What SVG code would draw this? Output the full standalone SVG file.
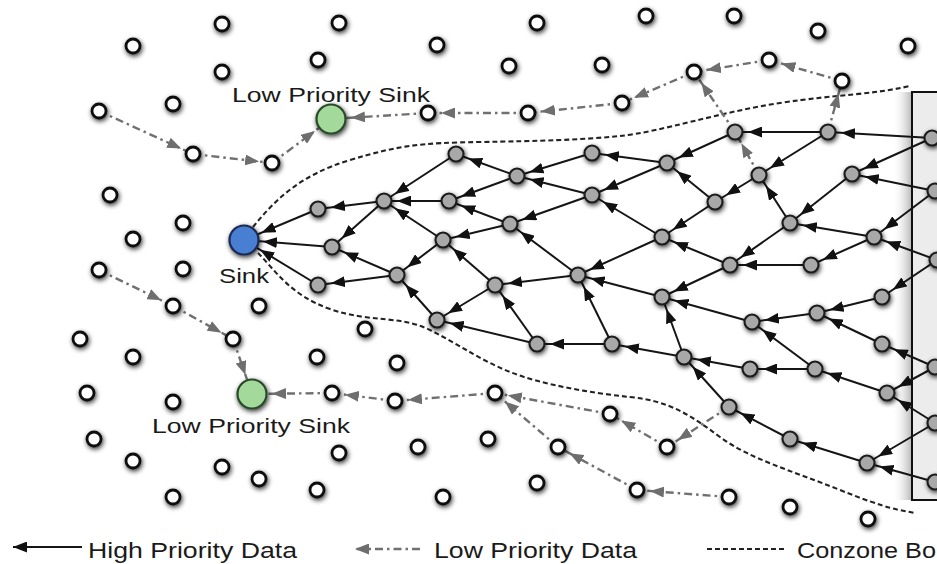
<svg xmlns="http://www.w3.org/2000/svg" width="937" height="564" viewBox="0 0 937 564">
<defs>
<style>
.w{fill:#fff;stroke:#111;stroke-width:2.8}
.g{fill:#a8a8a8;stroke:#1a1a1a;stroke-width:2.1}
.hp{stroke:#151515;stroke-width:2;fill:none}
.lp{stroke:#707070;stroke-width:2.4;stroke-dasharray:8 4 2.5 4;fill:none}
.cz{stroke:#222;stroke-width:2.1;stroke-dasharray:5 3;fill:none}
.t{font-family:"Liberation Sans",Arial,sans-serif;fill:#1a1a1a}
.nd{filter:url(#sh)}
</style>
<filter id="sh" x="-80%" y="-80%" width="260%" height="260%">
<feGaussianBlur in="SourceAlpha" stdDeviation="2.4"/>
<feOffset dx="1" dy="1.5"/>
<feComponentTransfer><feFuncA type="linear" slope="0.8"/></feComponentTransfer>
<feMerge><feMergeNode/><feMergeNode in="SourceGraphic"/></feMerge>
</filter>
<linearGradient id="bs" x1="0" x2="1" y1="0" y2="0">
<stop offset="0" stop-color="#fff" stop-opacity="0"/>
<stop offset="1" stop-color="#b5b5b5"/>
</linearGradient>
<marker id="ah" markerUnits="userSpaceOnUse" markerWidth="15" markerHeight="11" refX="27" refY="5.5" orient="auto"><path d="M0,0 L14,5.5 L0,11 z" fill="#111"/></marker>
<marker id="ahs" markerUnits="userSpaceOnUse" markerWidth="15" markerHeight="11" refX="33" refY="5.5" orient="auto"><path d="M0,0 L14,5.5 L0,11 z" fill="#111"/></marker>
<marker id="al" markerUnits="userSpaceOnUse" markerWidth="15" markerHeight="11" refX="27" refY="5.5" orient="auto"><path d="M0,0 L14,5.5 L0,11 z" fill="#6e6e6e"/></marker>
<marker id="als" markerUnits="userSpaceOnUse" markerWidth="15" markerHeight="11" refX="34" refY="5.5" orient="auto"><path d="M0,0 L14,5.5 L0,11 z" fill="#6e6e6e"/></marker>
<marker id="ahL" markerUnits="userSpaceOnUse" markerWidth="15" markerHeight="11" refX="14" refY="5.5" orient="auto"><path d="M0,0 L14,5.5 L0,11 z" fill="#111"/></marker>
<marker id="alL" markerUnits="userSpaceOnUse" markerWidth="15" markerHeight="11" refX="14" refY="5.5" orient="auto"><path d="M0,0 L14,5.5 L0,11 z" fill="#6e6e6e"/></marker>
</defs>
<rect width="937" height="564" fill="#fff"/>

<g id="boundary">
<path class="cz" d="M253,227 C275,200 300,175 350,160 S420,143 480,142 S580,140 620,136 S720,112 780,103 S870,95 910,86"/>
<path class="cz" d="M258,253 C275,270 290,295 330,309 S400,315 430,330 S480,360 510,372 S590,393 630,397 S690,415 720,437 S790,470 840,490 S900,510 915,513"/>
</g>

<g id="box">
<rect x="892" y="92" width="20" height="408" fill="url(#bs)"/>
<rect x="912" y="92" width="40" height="408" fill="#ececec" stroke="#111" stroke-width="2"/>
</g>

<g id="connectors">
<line class="hp" x1="517" y1="176" x2="456" y2="154" marker-end="url(#ah)"/>
<line class="hp" x1="456" y1="154" x2="384" y2="201" marker-end="url(#ah)"/>
<line class="hp" x1="592" y1="153" x2="517" y2="176" marker-end="url(#ah)"/>
<line class="hp" x1="592" y1="195" x2="517" y2="176" marker-end="url(#ah)"/>
<line class="hp" x1="517" y1="176" x2="449" y2="201" marker-end="url(#ah)"/>
<line class="hp" x1="667" y1="163" x2="592" y2="153" marker-end="url(#ah)"/>
<line class="hp" x1="667" y1="163" x2="592" y2="195" marker-end="url(#ah)"/>
<line class="hp" x1="735" y1="132" x2="667" y2="163" marker-end="url(#ah)"/>
<line class="hp" x1="715" y1="202" x2="667" y2="163" marker-end="url(#ah)"/>
<line class="hp" x1="828" y1="132" x2="735" y2="132" marker-end="url(#ah)"/>
<line class="hp" x1="828" y1="132" x2="759" y2="175" marker-end="url(#ah)"/>
<line class="hp" x1="759" y1="175" x2="715" y2="202" marker-end="url(#ah)"/>
<line class="hp" x1="790" y1="223" x2="759" y2="175" marker-end="url(#ah)"/>
<line class="hp" x1="852" y1="174" x2="790" y2="223" marker-end="url(#ah)"/>
<line class="hp" x1="932" y1="138" x2="828" y2="132" marker-end="url(#ah)"/>
<line class="hp" x1="932" y1="138" x2="852" y2="174" marker-end="url(#ah)"/>
<line class="hp" x1="935" y1="191" x2="852" y2="174" marker-end="url(#ah)"/>
<line class="hp" x1="935" y1="191" x2="874" y2="237" marker-end="url(#ah)"/>
<line class="hp" x1="937" y1="260" x2="874" y2="237" marker-end="url(#ah)"/>
<line class="hp" x1="937" y1="260" x2="882" y2="297" marker-end="url(#ah)"/>
<line class="hp" x1="874" y1="237" x2="790" y2="223" marker-end="url(#ah)"/>
<line class="hp" x1="874" y1="237" x2="811" y2="265" marker-end="url(#ah)"/>
<line class="hp" x1="811" y1="265" x2="730" y2="265" marker-end="url(#ah)"/>
<line class="hp" x1="790" y1="223" x2="730" y2="265" marker-end="url(#ah)"/>
<line class="hp" x1="715" y1="202" x2="662" y2="237" marker-end="url(#ah)"/>
<line class="hp" x1="730" y1="265" x2="662" y2="237" marker-end="url(#ah)"/>
<line class="hp" x1="730" y1="265" x2="662" y2="297" marker-end="url(#ah)"/>
<line class="hp" x1="662" y1="237" x2="592" y2="195" marker-end="url(#ah)"/>
<line class="hp" x1="662" y1="237" x2="578" y2="275" marker-end="url(#ah)"/>
<line class="hp" x1="662" y1="297" x2="578" y2="275" marker-end="url(#ah)"/>
<line class="hp" x1="592" y1="195" x2="510" y2="224" marker-end="url(#ah)"/>
<line class="hp" x1="578" y1="275" x2="510" y2="224" marker-end="url(#ah)"/>
<line class="hp" x1="578" y1="275" x2="495" y2="285" marker-end="url(#ah)"/>
<line class="hp" x1="510" y1="224" x2="449" y2="201" marker-end="url(#ah)"/>
<line class="hp" x1="510" y1="224" x2="443" y2="240" marker-end="url(#ah)"/>
<line class="hp" x1="449" y1="201" x2="384" y2="201" marker-end="url(#ah)"/>
<line class="hp" x1="443" y1="240" x2="384" y2="201" marker-end="url(#ah)"/>
<line class="hp" x1="384" y1="201" x2="318" y2="209" marker-end="url(#ah)"/>
<line class="hp" x1="384" y1="201" x2="332" y2="247" marker-end="url(#ah)"/>
<line class="hp" x1="443" y1="240" x2="397" y2="275" marker-end="url(#ah)"/>
<line class="hp" x1="495" y1="285" x2="443" y2="240" marker-end="url(#ah)"/>
<line class="hp" x1="397" y1="275" x2="332" y2="247" marker-end="url(#ah)"/>
<line class="hp" x1="397" y1="275" x2="318" y2="285" marker-end="url(#ah)"/>
<line class="hp" x1="437" y1="320" x2="397" y2="275" marker-end="url(#ah)"/>
<line class="hp" x1="495" y1="285" x2="437" y2="320" marker-end="url(#ah)"/>
<line class="hp" x1="537" y1="344" x2="495" y2="285" marker-end="url(#ah)"/>
<line class="hp" x1="537" y1="344" x2="437" y2="320" marker-end="url(#ah)"/>
<line class="hp" x1="612" y1="344" x2="537" y2="344" marker-end="url(#ah)"/>
<line class="hp" x1="612" y1="344" x2="578" y2="275" marker-end="url(#ah)"/>
<line class="hp" x1="684" y1="357" x2="612" y2="344" marker-end="url(#ah)"/>
<line class="hp" x1="684" y1="357" x2="662" y2="297" marker-end="url(#ah)"/>
<line class="hp" x1="752" y1="322" x2="662" y2="297" marker-end="url(#ah)"/>
<line class="hp" x1="817" y1="313" x2="752" y2="322" marker-end="url(#ah)"/>
<line class="hp" x1="882" y1="297" x2="817" y2="313" marker-end="url(#ah)"/>
<line class="hp" x1="882" y1="344" x2="817" y2="313" marker-end="url(#ah)"/>
<line class="hp" x1="815" y1="369" x2="752" y2="322" marker-end="url(#ah)"/>
<line class="hp" x1="815" y1="369" x2="750" y2="369" marker-end="url(#ah)"/>
<line class="hp" x1="750" y1="369" x2="684" y2="357" marker-end="url(#ah)"/>
<line class="hp" x1="729" y1="407" x2="684" y2="357" marker-end="url(#ah)"/>
<line class="hp" x1="887" y1="393" x2="815" y2="369" marker-end="url(#ah)"/>
<line class="hp" x1="790" y1="439" x2="729" y2="407" marker-end="url(#ah)"/>
<line class="hp" x1="867" y1="463" x2="790" y2="439" marker-end="url(#ah)"/>
<line class="hp" x1="935" y1="367" x2="882" y2="344" marker-end="url(#ah)"/>
<line class="hp" x1="935" y1="367" x2="887" y2="393" marker-end="url(#ah)"/>
<line class="hp" x1="935" y1="423" x2="887" y2="393" marker-end="url(#ah)"/>
<line class="hp" x1="935" y1="423" x2="867" y2="463" marker-end="url(#ah)"/>
<line class="hp" x1="935" y1="482" x2="867" y2="463" marker-end="url(#ah)"/>
<line class="hp" x1="318" y1="209" x2="244" y2="240" marker-end="url(#ahs)"/>
<line class="hp" x1="332" y1="247" x2="244" y2="240" marker-end="url(#ahs)"/>
<line class="hp" x1="318" y1="285" x2="244" y2="240" marker-end="url(#ahs)"/>

<line class="lp" x1="99" y1="111" x2="193" y2="154" marker-end="url(#al)"/>
<line class="lp" x1="193" y1="154" x2="272" y2="163" marker-end="url(#al)"/>
<line class="lp" x1="272" y1="163" x2="331" y2="119" marker-end="url(#als)"/>
<line class="lp" x1="428" y1="113" x2="331" y2="119" marker-end="url(#als)"/>
<line class="lp" x1="528" y1="113" x2="428" y2="113" marker-end="url(#al)"/>
<line class="lp" x1="622" y1="103" x2="528" y2="113" marker-end="url(#al)"/>
<line class="lp" x1="694" y1="72" x2="622" y2="103" marker-end="url(#al)"/>
<line class="lp" x1="769" y1="60" x2="694" y2="72" marker-end="url(#al)"/>
<line class="lp" x1="842" y1="81" x2="769" y2="60" marker-end="url(#al)"/>
<line class="lp" x1="828" y1="132" x2="842" y2="81" marker-end="url(#al)"/>
<line class="lp" x1="759" y1="175" x2="735" y2="132" marker-end="url(#al)"/>
<line class="lp" x1="735" y1="132" x2="694" y2="72" marker-end="url(#al)"/>
<line class="lp" x1="99" y1="270" x2="173" y2="306" marker-end="url(#al)"/>
<line class="lp" x1="173" y1="306" x2="233" y2="339" marker-end="url(#al)"/>
<line class="lp" x1="233" y1="339" x2="252" y2="394" marker-end="url(#als)"/>
<line class="lp" x1="332" y1="393" x2="252" y2="394" marker-end="url(#als)"/>
<line class="lp" x1="395" y1="401" x2="332" y2="393" marker-end="url(#al)"/>
<line class="lp" x1="495" y1="393" x2="395" y2="401" marker-end="url(#al)"/>
<line class="lp" x1="610" y1="414" x2="495" y2="393" marker-end="url(#al)"/>
<line class="lp" x1="667" y1="447" x2="610" y2="414" marker-end="url(#al)"/>
<line class="lp" x1="729" y1="407" x2="667" y2="447" marker-end="url(#al)"/>
<line class="lp" x1="558" y1="447" x2="495" y2="393" marker-end="url(#al)"/>
<line class="lp" x1="637" y1="490" x2="558" y2="447" marker-end="url(#al)"/>
<line class="lp" x1="729" y1="497" x2="637" y2="490" marker-end="url(#al)"/>
</g>

<g id="nodes" class="nd">
<g id="w1"><circle class="w" cx="222" cy="24" r="7"/></g>
<g id="w2"><circle class="w" cx="133" cy="46" r="7"/></g>
<g id="w3"><circle class="w" cx="339" cy="23" r="7"/></g>
<g id="w4"><circle class="w" cx="437" cy="45" r="7"/></g>
<g id="w5"><circle class="w" cx="537" cy="23" r="7"/></g>
<g id="w6"><circle class="w" cx="646" cy="16" r="7"/></g>
<g id="w7"><circle class="w" cx="734" cy="16" r="7"/></g>
<g id="w8"><circle class="w" cx="818" cy="31" r="7"/></g>
<g id="w9"><circle class="w" cx="908" cy="46" r="7"/></g>
<g id="w10"><circle class="w" cx="222" cy="72" r="7"/></g>
<g id="w11"><circle class="w" cx="318" cy="60" r="7"/></g>
<g id="w12"><circle class="w" cx="509" cy="66" r="7"/></g>
<g id="w13"><circle class="w" cx="602" cy="65" r="7"/></g>
<g id="w14"><circle class="w" cx="173" cy="104" r="7"/></g>
<g id="w15"><circle class="w" cx="99" cy="111" r="7"/></g>
<g id="w16"><circle class="w" cx="193" cy="154" r="7"/></g>
<g id="w17"><circle class="w" cx="272" cy="163" r="7"/></g>
<g id="w18"><circle class="w" cx="428" cy="113" r="7"/></g>
<g id="w19"><circle class="w" cx="528" cy="113" r="7"/></g>
<g id="w20"><circle class="w" cx="622" cy="103" r="7"/></g>
<g id="w21"><circle class="w" cx="694" cy="72" r="7"/></g>
<g id="w22"><circle class="w" cx="769" cy="60" r="7"/></g>
<g id="w23"><circle class="w" cx="842" cy="81" r="7"/></g>
<g id="w24"><circle class="w" cx="110" cy="195" r="7"/></g>
<g id="w25"><circle class="w" cx="183" cy="223" r="7"/></g>
<g id="w26"><circle class="w" cx="133" cy="239" r="7"/></g>
<g id="w27"><circle class="w" cx="99" cy="270" r="7"/></g>
<g id="w28"><circle class="w" cx="183" cy="269" r="7"/></g>
<g id="w29"><circle class="w" cx="173" cy="306" r="7"/></g>
<g id="w30"><circle class="w" cx="259" cy="306" r="7"/></g>
<g id="w31"><circle class="w" cx="233" cy="339" r="7"/></g>
<g id="w32"><circle class="w" cx="80" cy="339" r="7"/></g>
<g id="w33"><circle class="w" cx="133" cy="357" r="7"/></g>
<g id="w34"><circle class="w" cx="317" cy="357" r="7"/></g>
<g id="w35"><circle class="w" cx="365" cy="329" r="7"/></g>
<g id="w36"><circle class="w" cx="397" cy="363" r="7"/></g>
<g id="w37"><circle class="w" cx="87" cy="393" r="7"/></g>
<g id="w38"><circle class="w" cx="173" cy="402" r="7"/></g>
<g id="w39"><circle class="w" cx="94" cy="439" r="7"/></g>
<g id="w40"><circle class="w" cx="133" cy="461" r="7"/></g>
<g id="w41"><circle class="w" cx="222" cy="467" r="7"/></g>
<g id="w42"><circle class="w" cx="259" cy="479" r="7"/></g>
<g id="w43"><circle class="w" cx="173" cy="497" r="7"/></g>
<g id="w44"><circle class="w" cx="317" cy="490" r="7"/></g>
<g id="w45"><circle class="w" cx="332" cy="393" r="7"/></g>
<g id="w46"><circle class="w" cx="395" cy="401" r="7"/></g>
<g id="w47"><circle class="w" cx="495" cy="393" r="7"/></g>
<g id="w48"><circle class="w" cx="610" cy="414" r="7"/></g>
<g id="w49"><circle class="w" cx="339" cy="453" r="7"/></g>
<g id="w50"><circle class="w" cx="418" cy="447" r="7"/></g>
<g id="w51"><circle class="w" cx="488" cy="439" r="7"/></g>
<g id="w52"><circle class="w" cx="558" cy="447" r="7"/></g>
<g id="w53"><circle class="w" cx="443" cy="497" r="7"/></g>
<g id="w54"><circle class="w" cx="537" cy="483" r="7"/></g>
<g id="w55"><circle class="w" cx="667" cy="447" r="7"/></g>
<g id="w56"><circle class="w" cx="637" cy="490" r="7"/></g>
<g id="w57"><circle class="w" cx="729" cy="497" r="7"/></g>
<g id="w58"><circle class="w" cx="790" cy="507" r="7"/></g>
<g id="w59"><circle class="w" cx="868" cy="519" r="7"/></g>

<g id="g1"><circle class="g" cx="456" cy="154" r="7.5"/></g>
<g id="g2"><circle class="g" cx="517" cy="176" r="7.5"/></g>
<g id="g3"><circle class="g" cx="592" cy="153" r="7.5"/></g>
<g id="g4"><circle class="g" cx="667" cy="163" r="7.5"/></g>
<g id="g5"><circle class="g" cx="735" cy="132" r="7.5"/></g>
<g id="g6"><circle class="g" cx="828" cy="132" r="7.5"/></g>
<g id="g7"><circle class="g" cx="759" cy="175" r="7.5"/></g>
<g id="g8"><circle class="g" cx="852" cy="174" r="7.5"/></g>
<g id="g10"><circle class="g" cx="384" cy="201" r="7.5"/></g>
<g id="g11"><circle class="g" cx="449" cy="201" r="7.5"/></g>
<g id="g12"><circle class="g" cx="318" cy="209" r="7.5"/></g>
<g id="g13"><circle class="g" cx="510" cy="224" r="7.5"/></g>
<g id="g14"><circle class="g" cx="592" cy="195" r="7.5"/></g>
<g id="g15"><circle class="g" cx="715" cy="202" r="7.5"/></g>
<g id="g16"><circle class="g" cx="662" cy="237" r="7.5"/></g>
<g id="g17"><circle class="g" cx="790" cy="223" r="7.5"/></g>
<g id="g18"><circle class="g" cx="874" cy="237" r="7.5"/></g>
<g id="g20"><circle class="g" cx="332" cy="247" r="7.5"/></g>
<g id="g21"><circle class="g" cx="443" cy="240" r="7.5"/></g>
<g id="g22"><circle class="g" cx="397" cy="275" r="7.5"/></g>
<g id="g23"><circle class="g" cx="495" cy="285" r="7.5"/></g>
<g id="g24"><circle class="g" cx="578" cy="275" r="7.5"/></g>
<g id="g25"><circle class="g" cx="730" cy="265" r="7.5"/></g>
<g id="g26"><circle class="g" cx="811" cy="265" r="7.5"/></g>
<g id="g27"><circle class="g" cx="318" cy="285" r="7.5"/></g>
<g id="g28"><circle class="g" cx="662" cy="297" r="7.5"/></g>
<g id="g29"><circle class="g" cx="882" cy="297" r="7.5"/></g>
<g id="g30"><circle class="g" cx="437" cy="320" r="7.5"/></g>
<g id="g31"><circle class="g" cx="537" cy="344" r="7.5"/></g>
<g id="g32"><circle class="g" cx="612" cy="344" r="7.5"/></g>
<g id="g33"><circle class="g" cx="752" cy="322" r="7.5"/></g>
<g id="g34"><circle class="g" cx="817" cy="313" r="7.5"/></g>
<g id="g35"><circle class="g" cx="882" cy="344" r="7.5"/></g>
<g id="g36"><circle class="g" cx="684" cy="357" r="7.5"/></g>
<g id="g37"><circle class="g" cx="750" cy="369" r="7.5"/></g>
<g id="g38"><circle class="g" cx="815" cy="369" r="7.5"/></g>
<g id="g39"><circle class="g" cx="887" cy="393" r="7.5"/></g>
<g id="g40"><circle class="g" cx="729" cy="407" r="7.5"/></g>
<g id="g41"><circle class="g" cx="790" cy="439" r="7.5"/></g>
<g id="g42"><circle class="g" cx="867" cy="463" r="7.5"/></g>

<g id="b1"><circle class="g" cx="932" cy="138" r="7.5"/></g>
<g id="b2"><circle class="g" cx="935" cy="191" r="7.5"/></g>
<g id="b3"><circle class="g" cx="937" cy="260" r="7.5"/></g>
<g id="b4"><circle class="g" cx="935" cy="367" r="7.5"/></g>
<g id="b5"><circle class="g" cx="935" cy="423" r="7.5"/></g>
<g id="b6"><circle class="g" cx="935" cy="482" r="7.5"/></g>

<g id="sink"><circle cx="244" cy="240" r="14.5" fill="#4a7fd2" stroke="#1b2b52" stroke-width="2.2"/></g>
<g id="lpsink-top"><circle cx="331" cy="119" r="14.5" fill="#a3d99b" stroke="#2b4a2b" stroke-width="2.2"/></g>
<g id="lpsink-bottom"><circle cx="252" cy="394" r="14.5" fill="#a3d99b" stroke="#2b4a2b" stroke-width="2.2"/></g>
</g>

<g id="labels">
<text class="t" x="232" y="102" font-size="21" textLength="198" lengthAdjust="spacingAndGlyphs">Low Priority Sink</text>
<text class="t" x="219" y="283" font-size="21" textLength="50" lengthAdjust="spacingAndGlyphs">Sink</text>
<text class="t" x="152" y="433" font-size="21" textLength="198" lengthAdjust="spacingAndGlyphs">Low Priority Sink</text>
</g>

<g id="legend">
<line class="hp" x1="82" y1="547" x2="13" y2="547" marker-end="url(#ahL)"/>
<text class="t" x="88" y="558" font-size="22" textLength="209" lengthAdjust="spacingAndGlyphs">High Priority Data</text>
<line class="lp" x1="420" y1="549" x2="355" y2="549" marker-end="url(#alL)"/>
<text class="t" x="434" y="558" font-size="22" textLength="203" lengthAdjust="spacingAndGlyphs">Low Priority Data</text>
<line class="cz" x1="707" y1="549" x2="784" y2="549"/>
<text class="t" x="797" y="558" font-size="22" textLength="139" lengthAdjust="spacingAndGlyphs">Conzone Bo</text>
</g>
</svg>
